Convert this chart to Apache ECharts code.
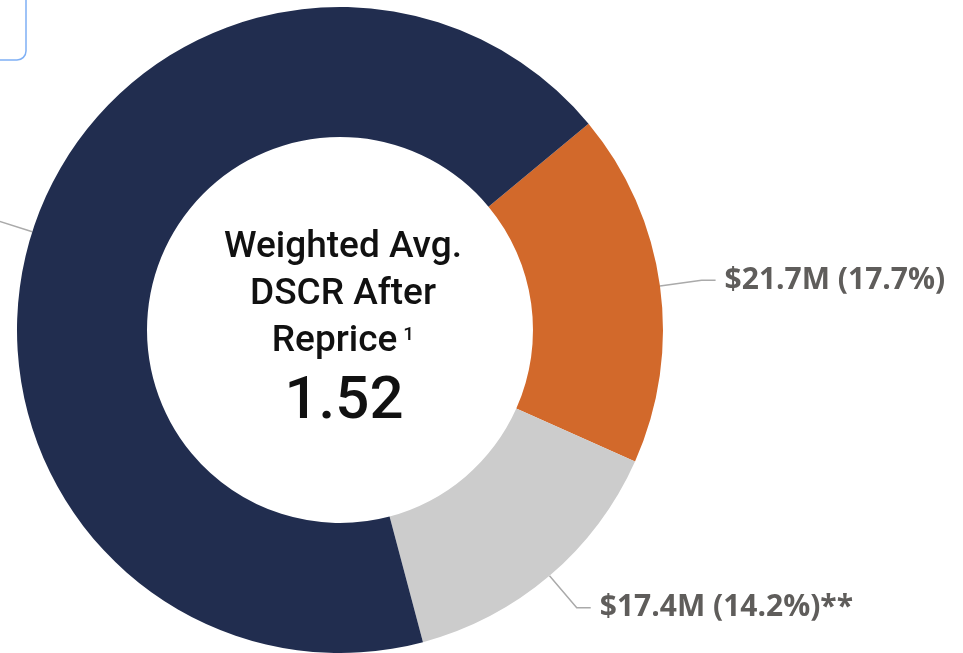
<!DOCTYPE html>
<html>
<head>
<meta charset="utf-8">
<script src="https://cdn.jsdelivr.net/npm/echarts@6/dist/echarts.min.js"></script>
<style>
    html, body { margin: 0; padding: 0; background: #fff; }
    #chartmain { width: 963px; height: 653px; }
</style>
</head>
<body>
<div id="chartmain"></div>
<script>
// 数据
var names = ['Orange', 'Gray', 'Navy'];
var values = [21.7, 17.4, 83.5];
var shares = [17.7, 14.2, 68.1];
var suffix = ['', '**', ''];
var colors = ['#d2692b', '#cccccc', '#212d4f'];
var dscr = '1.52';

(function () {
    var data = [];
    for (var i = 0; i < names.length; i++) {
        data.push({
            name: names[i],
            value: values[i],
            itemStyle: {color: colors[i]}
        });
    }

    var option = {
        animation: false,
        graphic: [
            {
                // 左上角按钮边框
                type: 'rect',
                shape: {x: -20, y: -10, width: 46, height: 70, r: 9},
                style: {fill: 'none', stroke: '#7fb0f5', lineWidth: 1.5}
            },
            {
                type: 'text',
                x: 343,
                y: 295,
                style: {
                    text: 'Weighted Avg.\nDSCR After\nReprice{sup|1}',
                    textAlign: 'center',
                    textVerticalAlign: 'middle',
                    font: '500 37px Roboto',
                    lineHeight: 47,
                    fill: '#111',
                    rich: {
                        sup: {font: '500 19px Roboto', padding: [0, 0, 14, 6], fill: '#111'}
                    }
                }
            },
            {
                type: 'text',
                x: 344,
                y: 403,
                style: {
                    text: dscr,
                    textAlign: 'center',
                    textVerticalAlign: 'middle',
                    font: '500 60px Roboto',
                    fill: '#111'
                }
            }
        ],
        series: [
            {
                type: 'pie',
                center: [340, 330],
                radius: [193, 323],
                startAngle: 39.7,
                clockwise: true,
                avoidLabelOverlap: false,
                label: {
                    show: true,
                    position: 'outside',
                    formatter: function (p) {
                        var i = p.dataIndex;
                        return '$' + values[i].toFixed(1) + 'M (' + shares[i].toFixed(1) + '%)' + suffix[i];
                    },
                    fontFamily: 'Open Sans',
                    fontWeight: 'bold',
                    fontSize: 30,
                    color: '#5f5d5b',
                    overflow: 'none',
                    distanceToLabelLine: 9
                },
                labelLine: {
                    show: true,
                    length: 42,
                    length2: 14,
                    lineStyle: {color: '#aaaaaa', width: 1.5}
                },
                emphasis: {disabled: true},
                data: data
            }
        ]
    };
    var myChart = echarts.init(document.getElementById('chartmain'));
    myChart.setOption(option);
})();
</script>
</body>
</html>
